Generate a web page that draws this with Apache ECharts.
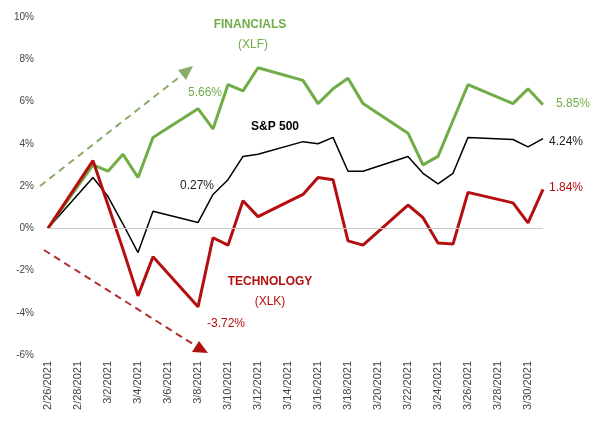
<!DOCTYPE html>
<html>
<head>
<meta charset="utf-8">
<script src="https://cdn.jsdelivr.net/npm/echarts@6/dist/echarts.min.js"></script>
<style>html,body{margin:0;padding:0;background:#fff}#chart{width:594px;height:429px}</style>
</head>
<body>
<div id="chart"></div>
<script>
// calendar days on the axis
var days = [];
['2/26','2/27','2/28'].forEach(function(d){ days.push(d + '/2021'); });
for (var i = 1; i <= 31; i++) days.push('3/' + i + '/2021');

// trading days and returns (%)
var tradeDays = ['2/26','3/1','3/2','3/3','3/4','3/5','3/8','3/9','3/10','3/11','3/12','3/15','3/16','3/17','3/18','3/19','3/22','3/23','3/24','3/25','3/26','3/29','3/30','3/31'];
var financials = [0, 3.0, 2.7, 3.5, 2.4, 4.3, 5.66, 4.7, 6.8, 6.5, 7.6, 7.0, 5.9, 6.6, 7.1, 5.9, 4.5, 3.0, 3.4, 5.1, 6.8, 5.9, 6.6, 5.85];
var sp500 = [0, 2.4, 1.5, 0.2, -1.15, 0.8, 0.27, 1.6, 2.3, 3.4, 3.5, 4.1, 4.0, 4.3, 2.7, 2.7, 3.4, 2.6, 2.1, 2.6, 4.3, 4.2, 3.85, 4.24];
var technology = [0, 3.2, 1.1, -1.0, -3.2, -1.35, -3.72, -0.45, -0.8, 1.3, 0.55, 1.6, 2.4, 2.3, -0.6, -0.8, 1.1, 0.5, -0.7, -0.75, 1.7, 1.2, 0.25, 1.84];

function toCalendar(vals) {
    var out = days.map(function(){ return null; });
    tradeDays.forEach(function(d, i) {
        out[days.indexOf(d + '/2021')] = vals[i];
    });
    return out;
}

var green = '#70ad47', red = '#b30f0f';
var myChart = echarts.init(document.getElementById('chart'));
var txt = function(x, y, s, color, bold) {
    return { type: 'text', x: x, y: y, style: { text: s, fill: color, font: (bold ? 'bold ' : '') + '12px "Liberation Sans", Arial', align: 'center', verticalAlign: 'middle' } };
};
option = {
    animation: false,
    grid: { left: 48, right: 51, top: 17, bottom: 74, outerBoundsMode: 'none', containLabel: false },
    xAxis: {
        type: 'category', data: days, boundaryGap: false,
        axisLine: { show: false }, axisTick: { show: false },
        axisLabel: { interval: 1, rotate: 90, color: '#444', fontSize: 11, fontFamily: 'Liberation Sans', margin: 6 }
    },
    yAxis: {
        type: 'value', min: -6, max: 10, interval: 2,
        splitLine: { show: false },
        axisLabel: { formatter: '{value}%', color: '#444', fontSize: 10, fontFamily: 'Liberation Sans', margin: 14 }
    },
    series: [
        { name: 'S&P 500', type: 'line', data: toCalendar(sp500), connectNulls: true, symbol: 'none', lineStyle: { color: '#000', width: 1.5 },
          markLine: { silent: true, symbol: 'none', label: { show: false }, lineStyle: { color: '#c8c8c8', type: 'solid', width: 1 }, data: [{ yAxis: 0 }] } },
        { name: 'XLF', type: 'line', data: toCalendar(financials), connectNulls: true, symbol: 'none', lineStyle: { color: green, width: 3 } },
        { name: 'XLK', type: 'line', data: toCalendar(technology), connectNulls: true, symbol: 'none', lineStyle: { color: red, width: 3 } }
    ],
    graphic: [
        { type: 'line', shape: { x1: 40, y1: 186, x2: 182, y2: 75 }, style: { stroke: '#8aab6a', lineWidth: 2, lineDash: [7, 5] } },
        { type: 'polygon', shape: { points: [[193, 66], [178, 70], [186, 80]] }, style: { fill: '#8aab6a' } },
        { type: 'line', shape: { x1: 44, y1: 250, x2: 196, y2: 346 }, style: { stroke: '#b03030', lineWidth: 2, lineDash: [7, 5] } },
        { type: 'polygon', shape: { points: [[208, 353], [192, 352], [199, 341]] }, style: { fill: '#b01010' } },
        txt(250, 25, 'FINANCIALS', green, true),
        txt(253, 45, '(XLF)', green, false),
        txt(275, 127, 'S&P 500', '#000', true),
        txt(270, 282, 'TECHNOLOGY', red, true),
        txt(270, 302, '(XLK)', red, false),
        txt(205, 93, '5.66%', green, false),
        txt(197, 186, '0.27%', '#222', false),
        txt(226, 324, '-3.72%', red, false),
        txt(573, 104, '5.85%', green, false),
        txt(566, 142, '4.24%', '#222', false),
        txt(566, 188, '1.84%', red, false)
    ]
};
myChart.setOption(option);
</script>
</body>
</html>
